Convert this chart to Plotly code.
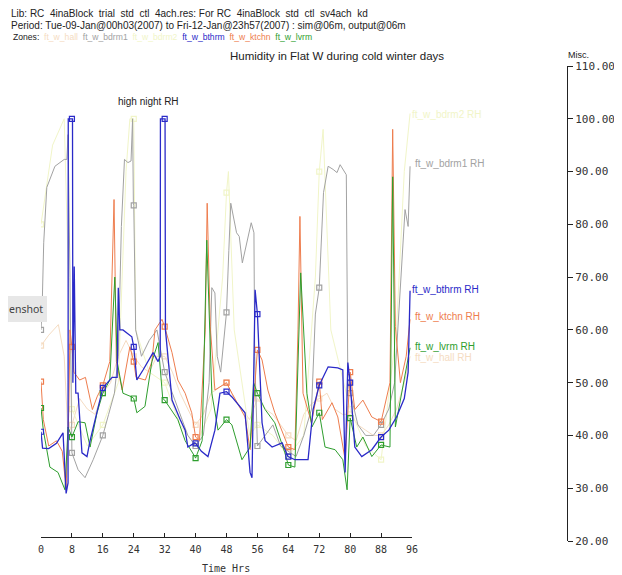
import plotly.graph_objects as go

# ---------------- data (hours, relative humidity %) ----------------
X_TICKS = [0, 8, 16, 24, 32, 40, 48, 56, 64, 72, 80, 88, 96]
Y_TICKS = [20, 30, 40, 50, 60, 70, 80, 90, 100, 110]

hours_bthrm = [0, 0.4, 2, 4, 5.7, 6.5, 7.0, 7.05, 8, 8.15, 8.25, 8.6, 9.0, 9.6, 10.6, 11.9, 12.7, 14, 15.8, 16,
               18.4, 19.7, 20.0, 20.4, 21.2, 23.5, 24, 24.8, 26.4, 29, 30.3, 30.85, 30.9, 32, 32.1, 32.2, 33.9, 36,
               37.3, 38, 39.8, 40, 41.5, 43.2, 45, 46.3, 48, 49.4, 52.8, 54.1, 54.6, 55.4, 56, 57.2, 58, 59.8, 62.4,
               63.9, 64, 65.7, 69.1, 70.4, 72, 74.3, 76.8, 78.1, 78.7, 79.4, 80, 81.2, 83, 85.6, 88, 90, 92, 94, 95, 95.5]
rh_bthrm = [40.7, 37.6, 37.5, 38.5, 40.5, 29.0, 31.0, 100, 100, 100, 50, 72, 48, 48, 36.7, 36, 39, 43, 48.7, 49,
            51, 51, 68, 60, 60, 58.7, 56.8, 50.5, 52.4, 55.7, 54, 55, 100, 100, 100, 60, 46.7, 43,
            41, 37.8, 38.6, 38.5, 37, 36, 41, 48, 48.3, 47.3, 44.3, 33, 32, 67.6, 63, 42.4, 39, 37.8, 38.6,
            36, 36, 35.4, 35.4, 44.9, 49.5, 53, 52.8, 52.4, 33, 53.8, 50, 37.8, 36, 37.3, 39.7, 41, 43.5, 47, 52, 67.4]

hours_ktchn = [0, 0.6, 2, 4, 5.5, 6.5, 7.2, 7.5, 8, 8.5, 10, 11.5, 13.3, 14.5, 16, 17.8, 18.9, 19.5, 21, 22.2,
               23, 24, 24.6, 27, 28.7, 29.5, 31.3, 32, 33.9, 35.4, 37.3, 39, 40, 41, 42.5, 43, 43.8, 45, 48, 49.4,
               52.8, 54.1, 55.4, 56, 57.2, 58.7, 60.5, 64, 65.7, 66.5, 67, 67.8, 70, 72, 72.8, 75.3, 76.8, 78.7, 80,
               81.2, 83.3, 85.6, 88, 90.3, 91, 91.7, 93, 94.5, 95.5]
rh_ktchn = [50.2, 43, 38, 39, 37, 30, 45, 60, 56.8, 52, 50.5, 51, 44.9, 47.3, 49.5, 54, 84.7, 54, 48.6, 54,
            56.8, 54, 51, 50.5, 54, 60, 62, 60.6, 55.7, 50.5, 48, 44.3, 39.7, 39, 60, 84, 60.6, 48.6, 50, 48,
            43.5, 37.3, 50, 56.2, 54.3, 48.6, 44.3, 37.8, 37.3, 60, 81.5, 48, 42.4, 50.2, 43, 46.2, 43.5, 35.4, 52,
            44.9, 46.7, 43.5, 42.6, 50, 98, 60.6, 50, 55, 62]

hours_lvrm = [0, 0.6, 2.3, 4.4, 6.2, 7.0, 8, 9.6, 11.4, 12.7, 14.5, 16, 17.8, 19.1, 19.7, 21.2, 23.5, 24, 24.8, 26.9,
              28.7, 30.3, 31.5, 32, 35.4, 37.3, 39.8, 40, 41.7, 42.9, 44.2, 45.8, 48, 49.4, 52, 54.1, 55, 56, 58, 60.5,
              63.1, 64, 65.7, 66.5, 67.2, 68.8, 70.1, 72, 73.5, 76.1, 78.1, 79.2, 80, 81.7, 83.3, 85.6, 88, 90.3, 91,
              91.7, 93.4, 95.5]
rh_lvrm = [45.2, 41, 34, 33, 29.7, 41.6, 39.7, 42.6, 42.4, 37.8, 44.3, 48, 50.5, 70, 54, 48, 47.3, 47, 44.3, 45.5,
           54, 57.6, 47, 46.7, 43, 39, 36, 35.7, 39, 77, 48, 41, 43, 42, 35.4, 37.8, 50, 48, 44.9, 42.4,
           36.7, 34.4, 34, 55, 70.8, 48, 41.6, 44.3, 37.8, 37.3, 35.4, 29.7, 43.3, 37.8, 39.7, 36, 38.2, 37.8, 89,
           41.6, 48, 56.6]

hours_bdrm1 = [0, 0.3, 0.7, 1.5, 3.6, 6.0, 6.7, 7.0, 7.5, 8, 9.6, 11.4, 13.5, 16, 17.5, 19, 20, 20.5, 20.8, 21.6,
               22.5, 23.3, 23.7, 23.9, 24, 24.5, 26, 28, 30, 32, 34, 36, 38, 40, 42, 43.5, 44.2, 45, 45.6, 46.5,
               48, 48.6, 49.1, 50.6, 51.3, 52.1, 54.4, 55.1, 55.3, 56, 58, 60, 62, 64, 66, 68, 70, 71, 72, 73.1,
               74.3, 75.6, 76.6, 77.4, 79.0, 79.4, 80, 82, 84, 86, 88, 90, 91.5, 92.9, 94.2, 95, 95.5]
rh_bdrm1 = [60, 64.4, 76.5, 87, 91, 92.3, 92.3, 97, 70, 36.7, 33.5, 32, 35.4, 40, 44, 48, 55, 68, 79.6, 92.3,
            91.7, 92, 100, 84, 83.6, 60, 55, 58, 60, 52, 48, 44, 40, 38, 40, 50, 68, 67, 55, 52,
            63.3, 75, 84, 78.4, 77.7, 72.7, 80.3, 78.4, 55, 38, 40, 42, 38, 37, 36, 40, 45, 63, 68, 86,
            91, 90.4, 89.8, 91.3, 89.4, 50, 48, 42, 40, 40, 42, 45, 50, 67, 82.8, 79.6, 91]

hours_hall = [0, 2, 4.5, 6, 7, 8, 10, 12, 14, 16, 18, 20, 22, 24, 26, 28, 30, 32, 34, 36,
              38, 40, 42, 44, 46, 48, 50, 52, 54, 56, 58, 60, 62, 64, 66, 68, 70, 72, 74, 76,
              78, 80, 82, 84, 86, 88, 90, 92, 94, 95.5]
rh_hall = [57, 59, 61, 55, 40, 42, 47, 45, 44, 48, 50, 55, 58, 55, 53, 52, 55, 55, 52, 48,
           45, 42, 44, 48, 49, 50, 47, 45, 43, 47, 45, 44, 42, 40, 39, 44, 46, 47, 48, 45,
           44, 44, 42, 41, 40, 40, 42, 45, 50, 55]

hours_bdrm2 = [0, 3, 6, 7, 8, 12, 16, 20, 22, 23, 24, 24.5, 28, 32, 36, 40, 44, 47, 48, 48.5,
               50, 54, 56, 60, 64, 68, 71, 72, 73, 75, 80, 84, 88, 92, 94, 95.5]
rh_bdrm2 = [80, 95, 100, 70, 45, 38, 42, 50, 90, 100, 100, 60, 52, 50, 42, 38, 45, 70, 86, 90,
            60, 40, 42, 40, 36, 40, 70, 90, 98, 60, 45, 38, 35.4, 60, 90, 101]

zones = ["ft_w_hall", "ft_w_bdrm1", "ft_w_bdrm2", "ft_w_bthrm", "ft_w_ktchn", "ft_w_lvrm"]

# ---------------- layout geometry (reference pixels; page body adds 8px offset) ----------------
OFF = 8
W, H = 622 - OFF, 575 - OFF
PLOT_L, PLOT_R, PLOT_T, PLOT_B = 41, 567, 66, 541   # reference page pixels
L, T = PLOT_L - OFF, PLOT_T - OFF
R, B = 622 - PLOT_R, 575 - PLOT_B
PW, PH = PLOT_R - PLOT_L, PLOT_B - PLOT_T
X_END_PX = 412


def px(x):
    return (x - PLOT_L) / PW


def py(y):
    return (PLOT_B - y) / PH


colors = {
    "ft_w_hall": "#f5dcc2",
    "ft_w_bdrm1": "#a2a2a2",
    "ft_w_bdrm2": "#f1f5c8",
    "ft_w_bthrm": "#2a2ac8",
    "ft_w_ktchn": "#ee7d4e",
    "ft_w_lvrm": "#2e9e2e",
}

series = [
    ("ft_w_hall", hours_hall, rh_hall, 1.0),
    ("ft_w_bdrm2", hours_bdrm2, rh_bdrm2, 1.0),
    ("ft_w_bdrm1", hours_bdrm1, rh_bdrm1, 1.0),
    ("ft_w_ktchn", hours_ktchn, rh_ktchn, 1.0),
    ("ft_w_lvrm", hours_lvrm, rh_lvrm, 1.0),
    ("ft_w_bthrm", hours_bthrm, rh_bthrm, 1.3),
]

fig = go.Figure()
for name, hrs, vals, lw in series:
    c = colors[name]
    fig.add_trace(go.Scatter(x=hrs, y=vals, mode="lines", line=dict(color=c, width=lw),
                             name=name, hoverinfo="skip"))
    mh = [h for h in hrs if h % 8 == 0 and h < 96]
    mv = [v for h, v in zip(hrs, vals) if h % 8 == 0 and h < 96]
    fig.add_trace(go.Scatter(x=mh, y=mv, mode="markers",
                             marker=dict(symbol="square-open", size=5, color=c, line=dict(width=1.2, color=c)),
                             hoverinfo="skip"))

sans = "Liberation Sans, Arial, sans-serif"
mono = "DejaVu Sans Mono, monospace"
NB = "\u00a0"


def text_ann(x, y, text, size, color="#222", anchor="left", family=sans):
    return dict(x=px(x), y=py(y), xref="paper", yref="paper", xanchor=anchor, yanchor="middle",
                showarrow=False, text=text, font=dict(family=family, size=size, color=color))


ann = [
    text_ann(9, 13, f"Lib: RC {NB}4inaBlock {NB}trial {NB}std {NB}ctl {NB}4ach.res: For RC {NB}4inaBlock {NB}std {NB}ctl {NB}sv4ach {NB}kd", 10),
    text_ann(9, 25, "Period: Tue-09-Jan@00h03(2007) to Fri-12-Jan@23h57(2007) : sim@06m, output@06m", 10),
    text_ann(11, 37, f"Zones: {NB}" + f" {NB}".join(
        f"<span style='color:{colors[z]}'>{z}</span>" for z in zones), 8.6),
    text_ann(337, 56, "Humidity in Flat W during cold winter days", 11.5, anchor="center"),
    text_ann(566, 55, "Misc.", 9),
    text_ann(116, 101, "high night RH", 10),
    text_ann(226, 568, "Time Hrs", 10, color="#333", anchor="center", family=mono),
    text_ann(45, 309, "enshot", 10.5, color="#444", anchor="right", family="Noto Sans, sans-serif"),
]

end_labels = [
    ("ft_w_bdrm2", 100.9, 410),
    ("ft_w_bdrm1", 91.6, 413),
    ("ft_w_bthrm", 67.6, 410),
    ("ft_w_ktchn", 62.5, 413),
    ("ft_w_lvrm", 56.8, 413),
    ("ft_w_hall", 54.7, 413),
]
for z, yv, xp in end_labels:
    ann.append(dict(x=px(xp), y=yv, xref="paper", yref="y", xanchor="left", yanchor="middle", showarrow=False,
                    text=f"{z} RH", font=dict(family=sans, size=10, color=colors[z])))

shapes = [dict(type="rect", xref="paper", yref="paper", x0=px(8), x1=px(47), y0=py(322), y1=py(296),
               fillcolor="#e7e7e7", line=dict(width=0), layer="above")]

fig.update_layout(
    width=W, height=H, margin=dict(l=L, r=R, t=T, b=B, autoexpand=False),
    paper_bgcolor="white", plot_bgcolor="white", showlegend=False,
    annotations=ann, shapes=shapes,
    xaxis=dict(domain=[0, px(X_END_PX)], range=[0, 96], tickvals=X_TICKS, ticktext=[str(v) for v in X_TICKS],
               ticks="inside", ticklen=4, tickcolor="#222", showline=True, linecolor="#222", linewidth=1,
               showgrid=False, zeroline=False, anchor="free", position=py(537),
               ticklabelstandoff=3, tickfont=dict(family=mono, size=10, color="#333")),
    yaxis=dict(range=[20, 110], tickvals=Y_TICKS, ticktext=[f"{v:.2f}" for v in Y_TICKS], side="right",
               anchor="free", position=1.0, ticks="outside", ticklen=5, tickcolor="#222", showline=True,
               linecolor="#222", linewidth=1, showgrid=False, zeroline=False,
               tickfont=dict(family=mono, size=11, color="#333")),
)

fig.write_html("out.html")
